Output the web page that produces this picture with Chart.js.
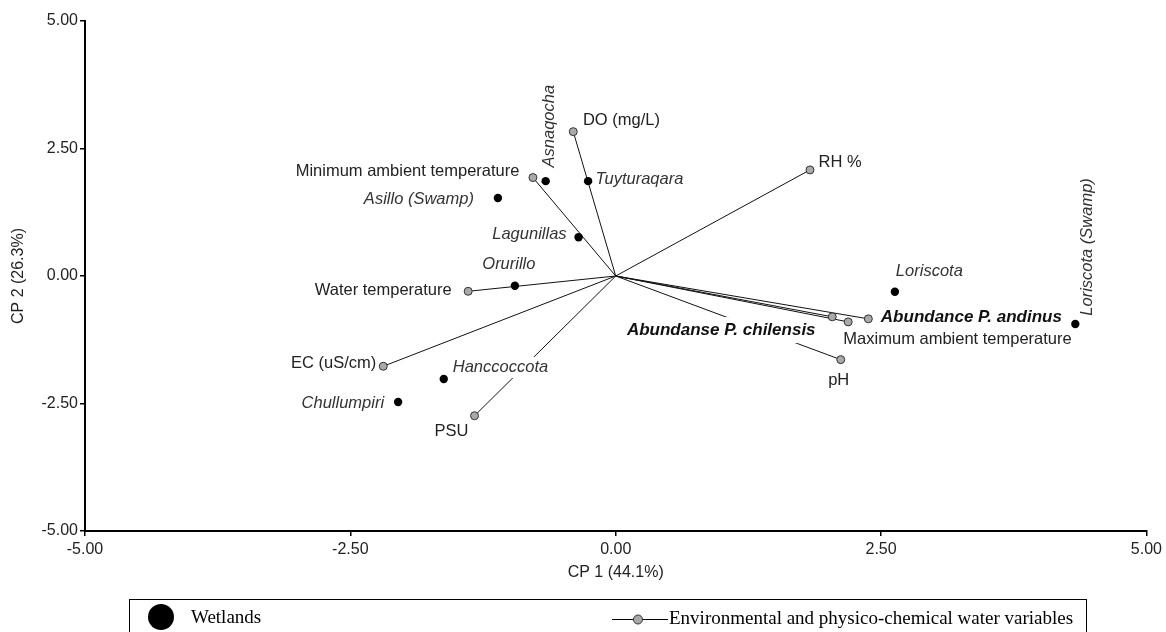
<!DOCTYPE html>
<html>
<head>
<meta charset="utf-8">
<script src="https://cdn.jsdelivr.net/npm/chart.js@4.4.1/dist/chart.umd.min.js"></script>
<style>
  html, body { margin: 0; padding: 0; background: #fff; }
</style>
</head>
<body>
<canvas id="pca" width="1166" height="632"></canvas>
<script>
// Wetlands (site scores)
const wetlandNames = ['Asnaqocha', 'Tuyturaqara', 'Asillo (Swamp)', 'Lagunillas', 'Orurillo', 'Loriscota', 'Loriscota (Swamp)', 'Hanccoccota', 'Chullumpiri'];
const wetlandX = [-0.66, -0.26, -1.11, -0.35, -0.95, 2.63, 4.33, -1.62, -2.05];
const wetlandY = [1.86, 1.86, 1.53, 0.76, -0.19, -0.31, -0.94, -2.02, -2.47];

// Environmental and physico-chemical variables (vectors from the origin)
const variableNames = ['DO (mg/L)', 'Minimum ambient temperature', 'RH %', 'Water temperature', 'EC (uS/cm)', 'PSU', 'pH', 'Abundanse P. chilensis', 'Maximum ambient temperature', 'Abundance P. andinus'];
const variableX = [-0.40, -0.78, 1.83, -1.39, -2.19, -1.33, 2.12, 2.04, 2.19, 2.38];
const variableY = [2.83, 1.93, 2.08, -0.30, -1.77, -2.74, -1.64, -0.80, -0.90, -0.84];

const axisTicks = [-5, -2.5, 0, 2.5, 5];

const SANS = '"Liberation Sans", Arial, sans-serif';
const SERIF = '"Liberation Serif", "Times New Roman", serif';

// label placement, pixel offsets from the point
const labelLayout = {
    'Asnaqocha': { dx: 4, dy: -55, align: 'center', rot: true },
    'Tuyturaqara': { dx: 7.5, dy: -2, align: 'left' },
    'Asillo (Swamp)': { dx: -24, dy: 1.5, align: 'right' },
    'Lagunillas': { dx: -12, dy: -3, align: 'right' },
    'Orurillo': { dx: -6, dy: -21, align: 'center' },
    'Loriscota': { dx: 1, dy: -20, align: 'left' },
    'Loriscota (Swamp)': { dx: 12, dy: -77, align: 'center', rot: true },
    'Hanccoccota': { dx: 9, dy: -11.6, align: 'left', bg: 10.5 },
    'Chullumpiri': { dx: -14, dy: 1, align: 'right' },
    'DO (mg/L)': { dx: 9.7, dy: -11.6, align: 'left' },
    'Minimum ambient temperature': { dx: -13.5, dy: -6.6, align: 'right' },
    'RH %': { dx: 8.6, dy: -7.7, align: 'left' },
    'Water temperature': { dx: -16.5, dy: -1, align: 'right' },
    'EC (uS/cm)': { dx: -7, dy: -2.7, align: 'right' },
    'PSU': { dx: -23, dy: 16, align: 'center' },
    'pH': { dx: -2, dy: 21, align: 'center' },
    'Abundanse P. chilensis': { dx: -111, dy: 13.3, align: 'center', bg: 13 },
    'Maximum ambient temperature': { dx: -4.8, dy: 17.6, align: 'left' },
    'Abundance P. andinus': { dx: 12.5, dy: -2, align: 'left' }
};

const labelPlugin = {
    id: 'pointLabels',
    afterDatasetsDraw(chart) {
        const { ctx, scales: { x, y } } = chart;
        const items = [];

        wetlandNames.forEach((n, i) => {
            items.push({ name: n, px: x.getPixelForValue(wetlandX[i]), py: y.getPixelForValue(wetlandY[i]),
                font: 'italic 16.5px ' + SANS, color: '#333' });
        });
        variableNames.forEach((n, i) => {
            const bold = n.indexOf('Abundan') === 0;
            items.push({ name: n, px: x.getPixelForValue(variableX[i]), py: y.getPixelForValue(variableY[i]),
                font: bold ? 'italic bold 17px ' + SANS : '16.5px ' + SANS, color: bold ? '#111' : '#222' });
        });

        ctx.save();
        items.forEach((it) => {
            const l = labelLayout[it.name];
            const tx = it.px + l.dx;
            const ty = it.py + l.dy;
            ctx.font = it.font;
            ctx.textBaseline = 'middle';
            ctx.textAlign = l.align;

            if (l.bg) {
                const w = ctx.measureText(it.name).width;
                let left = tx;
                if (l.align === 'center') left = tx - w / 2;
                if (l.align === 'right') left = tx - w;
                ctx.fillStyle = '#fff';
                ctx.fillRect(left - 2, ty - l.bg, w + 4, l.bg * 2);
            }

            ctx.fillStyle = it.color;
            if (l.rot) {
                ctx.save();
                ctx.translate(tx, ty);
                ctx.rotate(-Math.PI / 2);
                ctx.fillText(it.name, 0, 0);
                ctx.restore();
            } else {
                ctx.fillText(it.name, tx, ty);
            }
        });
        ctx.restore();
    }
};

// boxed legend under the plot
const legendPlugin = {
    id: 'boxLegend',
    afterDraw(chart) {
        const ctx = chart.ctx;
        ctx.save();
        ctx.strokeStyle = '#000';
        ctx.lineWidth = 1;
        ctx.strokeRect(129.5, 599.5, 957, 60);

        ctx.fillStyle = '#000';
        ctx.beginPath();
        ctx.arc(161, 617, 13, 0, Math.PI * 2);
        ctx.fill();

        ctx.beginPath();
        ctx.moveTo(612, 619.5);
        ctx.lineTo(668, 619.5);
        ctx.stroke();
        ctx.beginPath();
        ctx.arc(638, 619.5, 4.5, 0, Math.PI * 2);
        ctx.fillStyle = '#a9a9a9';
        ctx.fill();
        ctx.strokeStyle = '#333';
        ctx.stroke();

        ctx.fillStyle = '#000';
        ctx.font = '19px ' + SERIF;
        ctx.textBaseline = 'middle';
        ctx.textAlign = 'left';
        ctx.fillText('Wetlands', 191, 618);
        ctx.fillText('Environmental and physico-chemical water variables', 669, 619);
        ctx.restore();
    }
};

const datasets = [
    {
        label: 'Wetlands',
        data: wetlandX.map((v, i) => ({ x: v, y: wetlandY[i] })),
        showLine: false,
        pointRadius: 4.2,
        pointBackgroundColor: '#000',
        pointBorderColor: '#000',
        pointBorderWidth: 0
    },
    {
        label: 'Environmental and physico-chemical water variables',
        data: variableX.map((v, i) => ({ x: v, y: variableY[i] })),
        showLine: false,
        pointRadius: 4,
        pointBackgroundColor: '#a9a9a9',
        pointBorderColor: '#333',
        pointBorderWidth: 1
    }
];

// one line per variable, from the origin to its score
variableX.forEach((v, i) => {
    datasets.push({
        label: variableNames[i],
        data: [{ x: 0, y: 0 }, { x: v, y: variableY[i] }],
        showLine: true,
        borderColor: '#111',
        borderWidth: 1,
        pointRadius: 0
    });
});

const tickFont = { family: SANS, size: 16 };

new Chart(document.getElementById('pca'), {
    type: 'scatter',
    data: { datasets: datasets },
    options: {
        responsive: false,
        animation: false,
        layout: { padding: { left: 0, top: 21, right: 19, bottom: 46 } },
        plugins: {
            legend: { display: false },
            tooltip: { enabled: false }
        },
        scales: {
            x: {
                type: 'linear',
                min: -5,
                max: 5,
                afterBuildTicks: (s) => { s.ticks = axisTicks.map((v) => ({ value: v })); },
                afterFit: (s) => { s.height = 55; },
                grid: { drawOnChartArea: false, drawTicks: true, tickLength: 5, color: '#000', lineWidth: 1.5 },
                border: { display: true, color: '#000', width: 2 },
                ticks: { padding: 4, color: '#222', font: tickFont, callback: (v) => Number(v).toFixed(2) },
                title: { display: true, text: 'CP 1 (44.1%)', color: '#222', font: tickFont, padding: { top: 0, bottom: 4 } }
            },
            y: {
                type: 'linear',
                min: -5,
                max: 5,
                afterBuildTicks: (s) => { s.ticks = axisTicks.map((v) => ({ value: v })); },
                afterFit: (s) => { s.width = 85; },
                grid: { drawOnChartArea: false, drawTicks: true, tickLength: 5, color: '#000', lineWidth: 1.5 },
                border: { display: true, color: '#000', width: 2 },
                ticks: { padding: 2, color: '#222', font: tickFont, callback: (v) => Number(v).toFixed(2) },
                title: { display: true, text: 'CP 2 (26.3%)', color: '#222', font: tickFont, padding: { top: 9, bottom: 0 } }
            }
        }
    },
    plugins: [labelPlugin, legendPlugin]
});
</script>
</body>
</html>
